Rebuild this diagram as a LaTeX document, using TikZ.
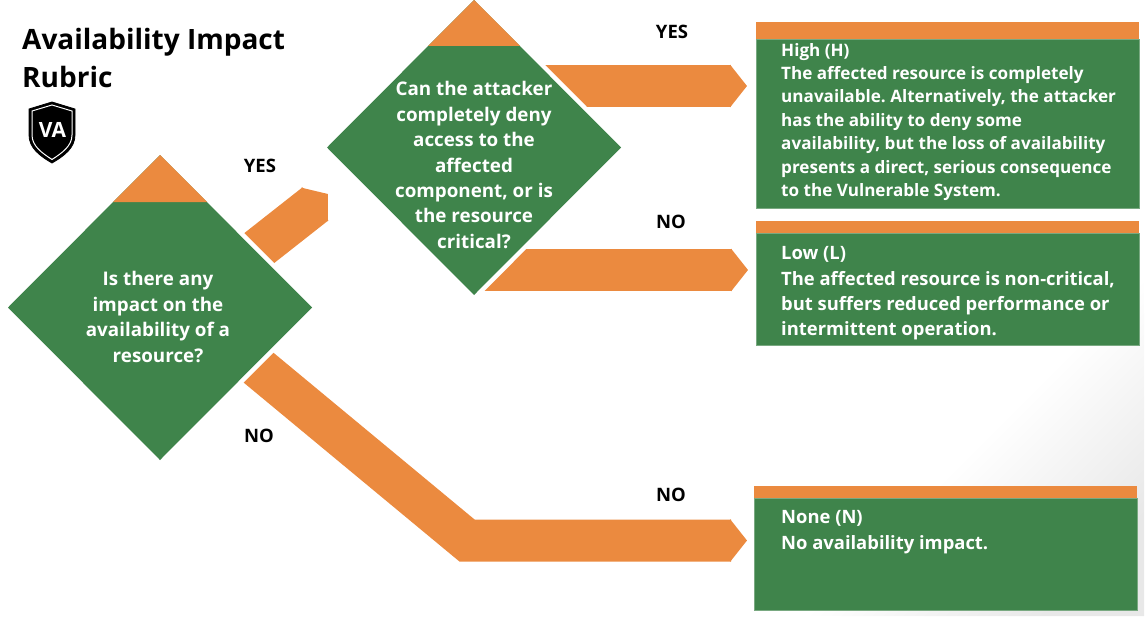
\documentclass[tikz,border=0pt]{standalone}
\usepackage{fontspec}
\setmainfont{Open Sans}
\usetikzlibrary{arrows.meta,calc,positioning,shapes.geometric}
\definecolor{rubricgreen}{HTML}{3F844B}
\definecolor{rubricorange}{HTML}{EB8A3F}
\tikzset{
    flow/.style={draw=rubricorange, line width=42pt, line join=miter, -{Triangle[length=17pt,width=42pt,color=rubricorange]}},
    question/.style={diamond, shape aspect=1, fill=rubricgreen, inner sep=0pt, outer sep=0pt, preaction={draw=white,line width=9pt}},
    questiontext/.style={text=white, align=center, inner sep=0pt, font=\fontsize{18.8}{25.4}\selectfont\bfseries},
    headbar/.style={fill=rubricorange, anchor=north west, inner sep=0pt, outer sep=0pt},
    resultbox/.style={fill=rubricgreen, draw=rubricgreen!70!white, line width=.6pt, inner sep=0pt, outer sep=0pt},
    answer/.style={text=black, inner sep=0pt, font=\fontsize{18.5}{20}\selectfont\bfseries},
    resulttext/.style={anchor=north west, text=white, inner sep=0pt, align=left, font=\fontsize{18.4}{25.3}\selectfont\bfseries},
}
\begin{document}
\frenchspacing
\begin{tikzpicture}[x=1pt, y=-1pt]
    \useasboundingbox (0,0) rectangle (1148,618);
    \shade[bottom color=black!9, top color=white, middle color=white, shading angle=45] (804,616) -- (1144,616) -- (1144,276) -- cycle;

    \node[anchor=north west, inner sep=0pt, align=left, font=\fontsize{28}{38}\selectfont\bfseries] (title) at (22,28.5) {Availability Impact\\Rubric};

    \draw[fill=black, draw=black, line width=.8pt] (52,102) -- (75,109) -- (75,135) .. controls (75,148) and (64,156) .. (52,163) .. controls (40,156) and (29,148) .. (29,135) -- (29,109) -- cycle;
    \draw[draw=white, line width=1pt] (52,105) -- (72,111) -- (72,135) .. controls (72,146) and (62,153) .. (52,159.5) .. controls (42,153) and (32,146) .. (32,135) -- (32,111) -- cycle;
    \node[text=white, inner sep=0pt, font=\fontsize{21}{21}\selectfont\bfseries] (shield) at (52.5,130) {VA};

    \coordinate (q1start) at (225,275);
    \coordinate (q1yes) at (328,194);
    \coordinate (q1out) at (224,339);
    \coordinate (q1bend) at (467,540.5);
    \coordinate (noneend) at (747,540.5);
    \coordinate (q2yesstart) at (500,86);
    \coordinate (highend) at (747,86);
    \coordinate (q2nostart) at (470,270);
    \coordinate (lowend) at (748,270);

    \draw[flow] (q1start) -- (q1yes);
    \draw[flow] (q1out) -- (q1bend) -- (noneend);
    \draw[flow] (q2yesstart) -- (highend);
    \draw[flow] (q2nostart) -- (lowend);

    \node[question, minimum width=304pt, minimum height=305pt] (q1) at (160,307.5) {};
    \fill[rubricorange] (q1.north) -- ++(-47,47) -- ++(94,0) -- cycle;
    \node[questiontext] (q1text) at (158,317) {Is there any\\impact on the\\availability of a\\resource?};

    \node[question, minimum width=294pt, minimum height=295pt] (q2) at (474,147.5) {};
    \fill[rubricorange] (q2.north) -- ++(-46,46) -- ++(92,0) -- cycle;
    \node[questiontext] (q2text) at (474,165) {Can the attacker\\completely deny\\access to the\\affected\\component, or is\\the resource\\critical?};

    \node[headbar, minimum width=383pt, minimum height=17pt] (highbar) at (756,22) {};
    \node[resultbox, minimum width=383pt, minimum height=169pt, below=0pt of highbar] (high) {};
    \node[resulttext, font=\fontsize{17.1}{23.4}\selectfont\bfseries] (hightext) at ($(high.north west)+(25,4)$) {High (H)\\The affected resource is completely\\unavailable. Alternatively, the attacker\\has the ability to deny some\\availability, but the loss of availability\\presents a direct, serious consequence\\to the Vulnerable System.};

    \node[headbar, minimum width=383pt, minimum height=12pt] (lowbar) at (756,221) {};
    \node[resultbox, minimum width=383pt, minimum height=112pt, below=0pt of lowbar] (low) {};
    \node[resulttext] (lowtext) at ($(low.north west)+(25,13.5)$) {Low (L)\\The affected resource is non-critical,\\but suffers reduced performance or\\intermittent operation.};

    \node[headbar, minimum width=383pt, minimum height=12pt] (nonebar) at (754,486) {};
    \node[resultbox, minimum width=383pt, minimum height=112pt, below=0pt of nonebar] (none) {};
    \node[resulttext] (nonetext) at ($(none.north west)+(27,12.5)$) {None (N)\\No availability impact.};

    \node[answer] (yesone) at (260,166) {YES};
    \node[answer] (noone) at (259,436) {NO};
    \node[answer] (yestwo) at (672,32) {YES};
    \node[answer] (notwo) at (671,222) {NO};
    \node[answer] (nothree) at (671,495) {NO};
\end{tikzpicture}
\end{document}
